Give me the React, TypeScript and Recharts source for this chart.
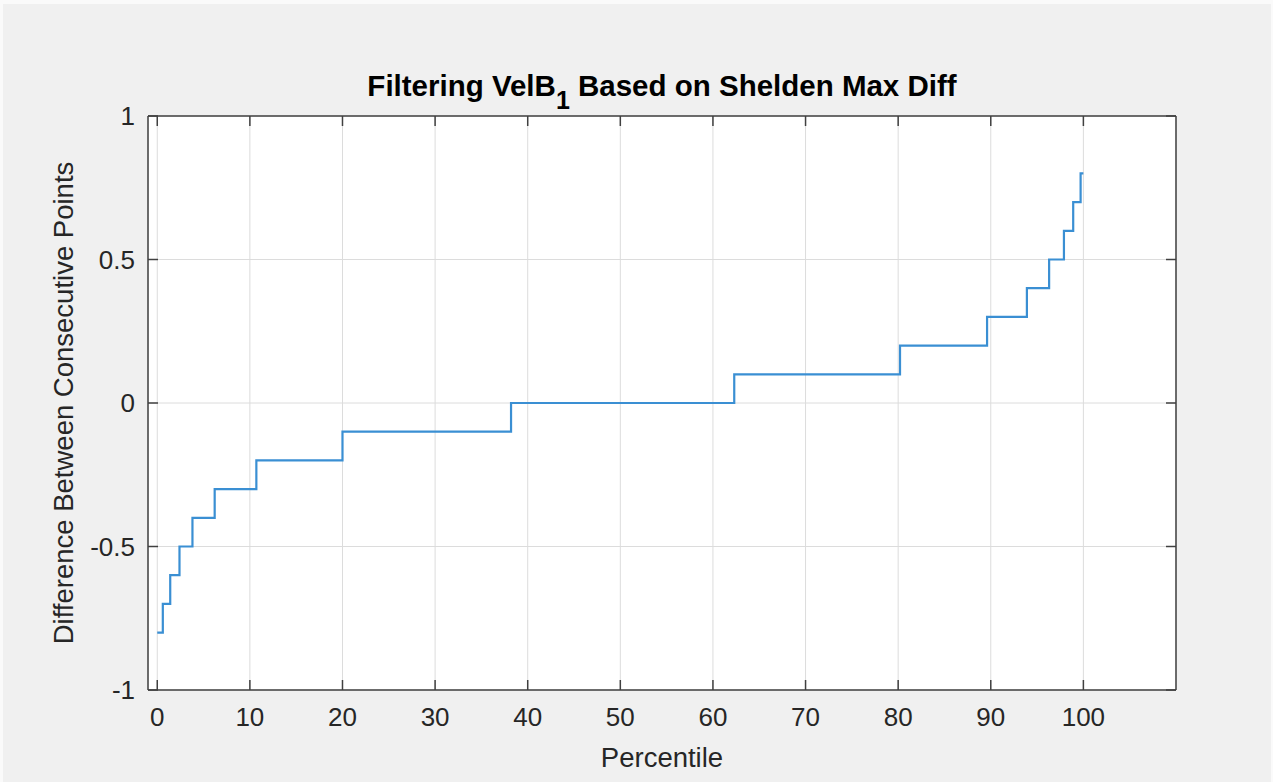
import React from 'react';
import { LineChart, Line, XAxis, YAxis, CartesianGrid } from 'recharts';

// step points (percentile where each step starts)
const percentile = [0, 0.6, 1.4, 2.4, 3.8, 6.2, 10.7, 20, 38.2, 62.3, 80.2, 89.6, 93.9, 96.3, 97.9, 98.9, 99.7, 100];
const diffValues = [-0.8, -0.7, -0.6, -0.5, -0.4, -0.3, -0.2, -0.1, 0, 0.1, 0.2, 0.3, 0.4, 0.5, 0.6, 0.7, 0.8, 0.8];

const xTicks = [0, 10, 20, 30, 40, 50, 60, 70, 80, 90, 100];
const yTicks = [-1, -0.5, 0, 0.5, 1];
const xDomain = [-1, 110];
const yDomain = [-1, 1];

const data = percentile.map((p, i) => ({ p, d: diffValues[i] }));

const FONT = '"Liberation Sans", Arial, Helvetica, sans-serif';
const INK = '#262626';
const BOX = '#404040';

const W = 1273;
const H = 782;
// plot box edges
const PL = 148;
const PR = 1176;
const PT = 116;
const PB = 690;

// empty tick label so only the tick marks are drawn
const NoLabel = () => <g />;

const tickLineStyle = { stroke: BOX, strokeWidth: 1.5 };

export default function App() {
  return (
    <div style={{ position: 'fixed', left: 0, top: 0, width: W, height: H, background: '#fafafa', fontFamily: FONT }}>
      <div style={{ position: 'absolute', left: 3, top: 4, right: 2, bottom: 0, background: '#f0f0f0' }} />
      <div style={{ position: 'absolute', left: 0, top: 0 }}>
        <LineChart
          width={W}
          height={H}
          data={data}
          margin={{ top: PT, right: W - PR, left: PL - 70, bottom: H - PB - 40 }}
        >
          <CartesianGrid xAxisId="x" yAxisId="y" stroke="#dcdcdc" fill="#ffffff" fillOpacity={1} />
          <XAxis
            xAxisId="x"
            dataKey="p"
            type="number"
            domain={xDomain}
            ticks={xTicks}
            interval={0}
            allowDataOverflow
            height={40}
            tickLine={false}
            tickSize={0}
            tickMargin={18}
            axisLine={{ stroke: BOX, strokeWidth: 1.5 }}
            tick={{ fill: INK, fontSize: 26, fontFamily: FONT }}
          />
          <XAxis
            xAxisId="xb"
            dataKey="p"
            type="number"
            orientation="bottom"
            mirror
            domain={xDomain}
            ticks={xTicks}
            interval={0}
            allowDataOverflow
            tick={NoLabel}
            tickSize={10}
            tickLine={tickLineStyle}
            axisLine={false}
          />
          <XAxis
            xAxisId="xt"
            dataKey="p"
            type="number"
            orientation="top"
            mirror
            domain={xDomain}
            ticks={xTicks}
            interval={0}
            allowDataOverflow
            tick={NoLabel}
            tickSize={10}
            tickLine={tickLineStyle}
            axisLine={{ stroke: BOX, strokeWidth: 1.5 }}
          />
          <YAxis
            yAxisId="y"
            type="number"
            domain={yDomain}
            ticks={yTicks}
            interval={0}
            allowDataOverflow
            width={70}
            tickLine={false}
            tickSize={0}
            tickMargin={13}
            axisLine={{ stroke: BOX, strokeWidth: 1.5 }}
            tick={{ fill: INK, fontSize: 26, fontFamily: FONT }}
          />
          <YAxis
            yAxisId="yl"
            type="number"
            orientation="left"
            mirror
            domain={yDomain}
            ticks={yTicks}
            interval={0}
            allowDataOverflow
            tick={NoLabel}
            tickSize={10}
            tickLine={tickLineStyle}
            axisLine={false}
          />
          <YAxis
            yAxisId="yr"
            type="number"
            orientation="right"
            mirror
            domain={yDomain}
            ticks={yTicks}
            interval={0}
            allowDataOverflow
            tick={NoLabel}
            tickSize={10}
            tickLine={tickLineStyle}
            axisLine={{ stroke: BOX, strokeWidth: 1.5 }}
          />
          <Line
            xAxisId="x"
            yAxisId="y"
            type="stepAfter"
            dataKey="d"
            stroke="#3a8fd3"
            strokeWidth={2.2}
            dot={false}
            activeDot={false}
            isAnimationActive={false}
          />
        </LineChart>
      </div>
      <svg width={W} height={H} style={{ position: 'absolute', left: 0, top: 0, pointerEvents: 'none' }}>
        <text x={(PL + PR) / 2} y={96} textAnchor="middle" fontSize={29.5} fontWeight="bold" fill="#000" fontFamily={FONT}>
          Filtering VelB
          <tspan fontSize={25} dy={13}>1</tspan>
          <tspan dy={-13}> Based on Shelden Max Diff</tspan>
        </text>
        <text x={(PL + PR) / 2} y={767} textAnchor="middle" fontSize={27.5} fill={INK} fontFamily={FONT}>
          Percentile
        </text>
        <text
          x={0}
          y={0}
          transform={`translate(73, ${(PT + PB) / 2}) rotate(-90)`}
          textAnchor="middle"
          fontSize={27.5}
          fill={INK}
          fontFamily={FONT}
        >
          Difference Between Consecutive Points
        </text>
      </svg>
    </div>
  );
}
